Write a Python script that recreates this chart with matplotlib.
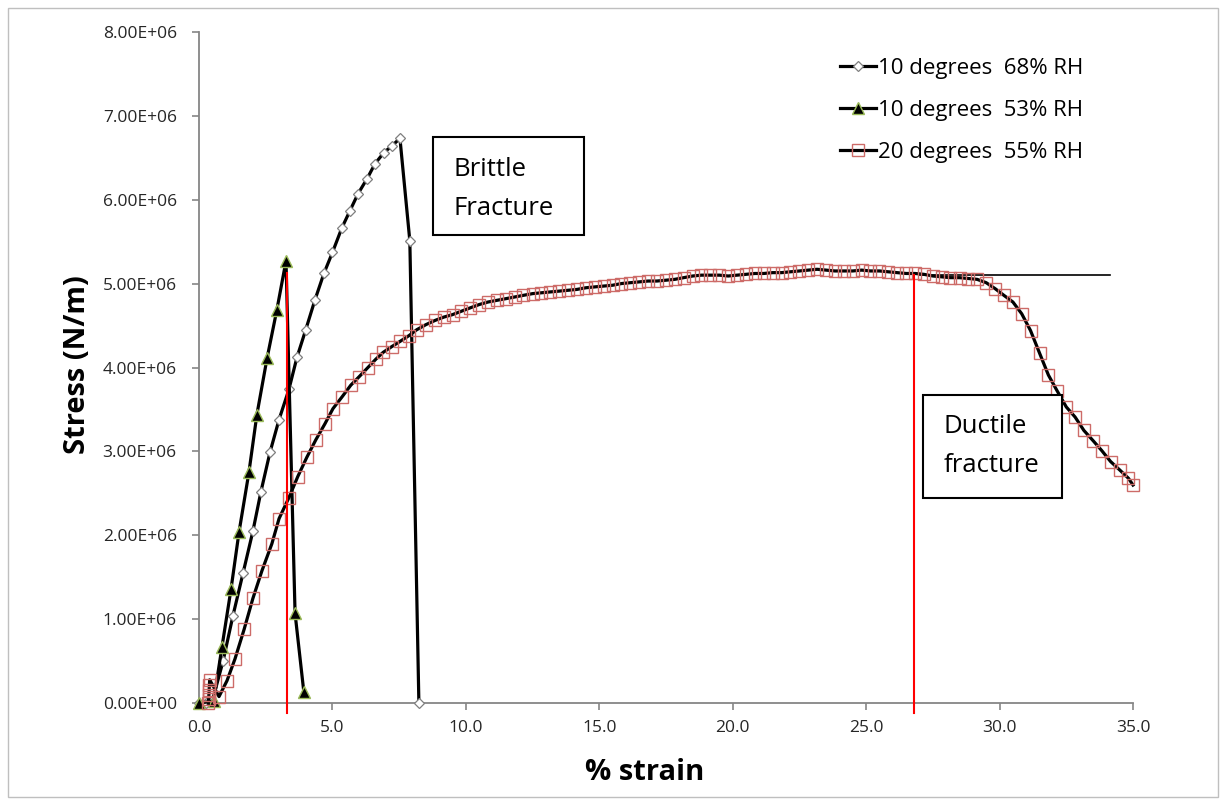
import matplotlib
matplotlib.use("Agg")
import matplotlib.pyplot as plt
from matplotlib.patches import Rectangle
from matplotlib.ticker import MultipleLocator, FuncFormatter

plt.rcParams['font.family'] = ['Open Sans', 'DejaVu Sans']

# ---------------- data ----------------
s1_label = "10 degrees  68% RH"
s1_x = [0.0, 0.25, 0.5, 0.9, 1.27, 1.65, 2.02, 2.32, 2.66, 3.0, 3.37, 3.67, 4.0,
        4.34, 4.68, 5.0, 5.35, 5.66, 5.96, 6.3, 6.6, 6.93, 7.23, 7.53, 7.9, 8.24]
s1_y = [0.0, 0.0, 0.03, 0.5, 1.04, 1.55, 2.05, 2.52, 2.99, 3.38, 3.74, 4.12, 4.45,
        4.80, 5.12, 5.37, 5.66, 5.87, 6.07, 6.25, 6.43, 6.56, 6.64, 6.73, 5.51, 0.0]

s2_label = "10 degrees  53% RH"
s2_x = [0.0, 0.55, 0.86, 1.2, 1.5, 1.87, 2.17, 2.55, 2.92, 3.26, 3.6, 3.93]
s2_y = [0.0, 0.03, 0.67, 1.36, 2.04, 2.75, 3.44, 4.11, 4.69, 5.27, 1.07, 0.13]

s3_label = "20 degrees  55% RH"
s3_x = [0.35, 0.36, 0.37, 0.38, 0.39, 0.40, 0.75, 1.05, 1.35, 1.69, 2.02, 2.36,
        2.73, 3.0, 3.37, 3.7, 4.04, 4.38, 4.72, 5.02, 5.36, 5.69, 6.0, 6.33, 6.63,
        6.9, 7.23, 7.53, 7.87, 8.16, 8.5, 8.84,
        9.17, 9.5, 9.83, 10.16, 10.5, 10.83, 11.16, 11.5, 11.83, 12.16, 12.5, 12.83,
        13.16, 13.5, 13.83, 14.16, 14.5, 14.83, 15.16, 15.5, 15.83, 16.16, 16.5,
        16.83, 17.16, 17.5, 17.83, 18.16, 18.5, 18.83, 19.16, 19.5, 19.83, 20.16,
        20.5, 20.83, 21.16, 21.5, 21.83, 22.16, 22.5, 22.83, 23.16, 23.5, 23.83,
        24.16, 24.5, 24.83, 25.16, 25.5, 25.83, 26.16, 26.5, 26.83, 27.16, 27.5,
        27.83, 28.16, 28.5, 28.83, 29.16, 29.5, 29.83, 30.16, 30.5, 30.83, 31.16,
        31.5, 31.83, 32.16, 32.5, 32.83, 33.16, 33.5, 33.83, 34.16, 34.5, 34.83, 35.0]
s3_y = [0.0, 0.05, 0.10, 0.16, 0.22, 0.28, 0.08, 0.27, 0.53, 0.88, 1.25, 1.58,
        1.90, 2.20, 2.45, 2.70, 2.93, 3.14, 3.33, 3.51, 3.65, 3.79, 3.89, 4.00, 4.10,
        4.18, 4.25, 4.31, 4.38, 4.45, 4.51, 4.56,
        4.60, 4.63, 4.67, 4.71, 4.75, 4.78, 4.80, 4.82, 4.84, 4.86, 4.88, 4.89,
        4.90, 4.91, 4.92, 4.93, 4.95, 4.96, 4.97, 4.98, 5.00, 5.01, 5.02,
        5.03, 5.03, 5.04, 5.05, 5.07, 5.09, 5.10, 5.10, 5.10, 5.09, 5.10,
        5.11, 5.12, 5.12, 5.13, 5.13, 5.14, 5.15, 5.16, 5.17, 5.16, 5.15,
        5.15, 5.15, 5.16, 5.15, 5.15, 5.14, 5.13, 5.12, 5.12, 5.11, 5.09,
        5.08, 5.07, 5.07, 5.06, 5.05, 5.01, 4.94, 4.86, 4.78, 4.64, 4.44,
        4.17, 3.91, 3.72, 3.53, 3.41, 3.25, 3.13, 3.01, 2.88, 2.78, 2.68, 2.60]

scale = 1e6
brittle_x = 3.3
brittle_top = 5.12
ductile_x = 26.8
ductile_top = 5.10
plateau_y = 5.10
plateau_x = [27.0, 34.15]

x_ticks_step = 5
y_ticks_step = 1e6
x_label = "% strain"
y_label = "Stress (N/m)"
brittle_text = "Brittle\nFracture"
ductile_text = "Ductile\nfracture"

# ---------------- figure ----------------
W, H = 1220, 799
fig = plt.figure(figsize=(W / 100, H / 100), dpi=100)
ax = fig.add_axes([199 / W, (H - 703.3) / H, 934 / W, (703.3 - 31.7) / H])

lw = 2.3
ax.plot(s1_x, [v * scale for v in s1_y], color='black', lw=lw, marker='D',
        markersize=5.5, markerfacecolor='white', markeredgecolor='#7f7f7f',
        markeredgewidth=0.9, label=s1_label, zorder=3, clip_on=False)
ax.plot(s2_x, [v * scale for v in s2_y], color='black', lw=lw, marker='^',
        markersize=8, markerfacecolor='black', markeredgecolor='#9bbb59',
        markeredgewidth=1.0, label=s2_label, zorder=4, clip_on=False)
ax.plot(s3_x, [v * scale for v in s3_y], color='black', lw=lw, marker='s',
        markersize=8, markerfacecolor='none', markeredgecolor='#cd6b68',
        markeredgewidth=1.0, label=s3_label, zorder=5, clip_on=False)

# red guide lines
ax.plot([brittle_x, brittle_x], [-0.11 * scale, brittle_top * scale], color='red',
        lw=1.5, zorder=6, clip_on=False)
ax.plot([ductile_x, ductile_x], [-0.11 * scale, ductile_top * scale], color='red',
        lw=1.5, zorder=6, clip_on=False)
# plateau line
ax.plot(plateau_x, [plateau_y * scale] * 2, color='black', lw=1.2, zorder=2)

ax.set_xlim(0, 35)
ax.set_ylim(0, 8e6)
ax.xaxis.set_major_locator(MultipleLocator(x_ticks_step))
ax.yaxis.set_major_locator(MultipleLocator(y_ticks_step))
ax.xaxis.set_major_formatter(FuncFormatter(lambda v, p: f"{v:.1f}"))
ax.yaxis.set_major_formatter(FuncFormatter(lambda v, p: f"{v:.2E}"))

for side in ['top', 'right']:
    ax.spines[side].set_visible(False)
for side in ['left', 'bottom']:
    ax.spines[side].set_color('#868686')
    ax.spines[side].set_linewidth(1.3)
ax.tick_params(axis='both', direction='out', length=5, width=1.2, color='#868686',
               labelsize=12.5, labelcolor='#262626')
ax.tick_params(axis='x', pad=7)
ax.tick_params(axis='y', pad=11)

ax.set_xlabel(x_label, fontsize=21, fontweight='bold')
ax.set_ylabel(y_label, fontsize=21, fontweight='bold')
ax.xaxis.set_label_coords((645 - 199) / 934, -(772 - 703.3) / 671.6)
ax.yaxis.set_label_coords(-(199 - 77) / 934, (703.3 - 365) / 671.6)
ax.xaxis.label.set_va('center')
ax.yaxis.label.set_va('center')

leg = ax.legend(loc='upper left', bbox_to_anchor=(840 / W, (H - 58) / H),
                bbox_transform=fig.transFigure, frameon=False, fontsize=16,
                handlelength=1.6, handletextpad=0.12, labelspacing=0.95,
                borderaxespad=0, borderpad=0)

# annotation boxes (figure pixel coordinates)
def box(x0, y0, x1, y1, text, tx, ty):
    fig.add_artist(Rectangle((x0 / W, (H - y1) / H), (x1 - x0) / W, (y1 - y0) / H,
                             transform=fig.transFigure, facecolor='white',
                             edgecolor='black', lw=1.5, zorder=10))
    fig.text(tx / W, (H - ty) / H, text, fontsize=18.5, ha='left', va='center',
             linespacing=1.7, zorder=11)

box(433, 137, 584, 235, brittle_text, 454, 189)
box(923, 395, 1062, 498, ductile_text, 944, 446)

# outer border
fig.add_artist(Rectangle((8 / W, 2 / H), (W - 10) / W, (H - 10) / H,
                         transform=fig.transFigure, facecolor='none',
                         edgecolor='#bfbfbf', lw=1.0))

fig.savefig("out.png", dpi=100)
